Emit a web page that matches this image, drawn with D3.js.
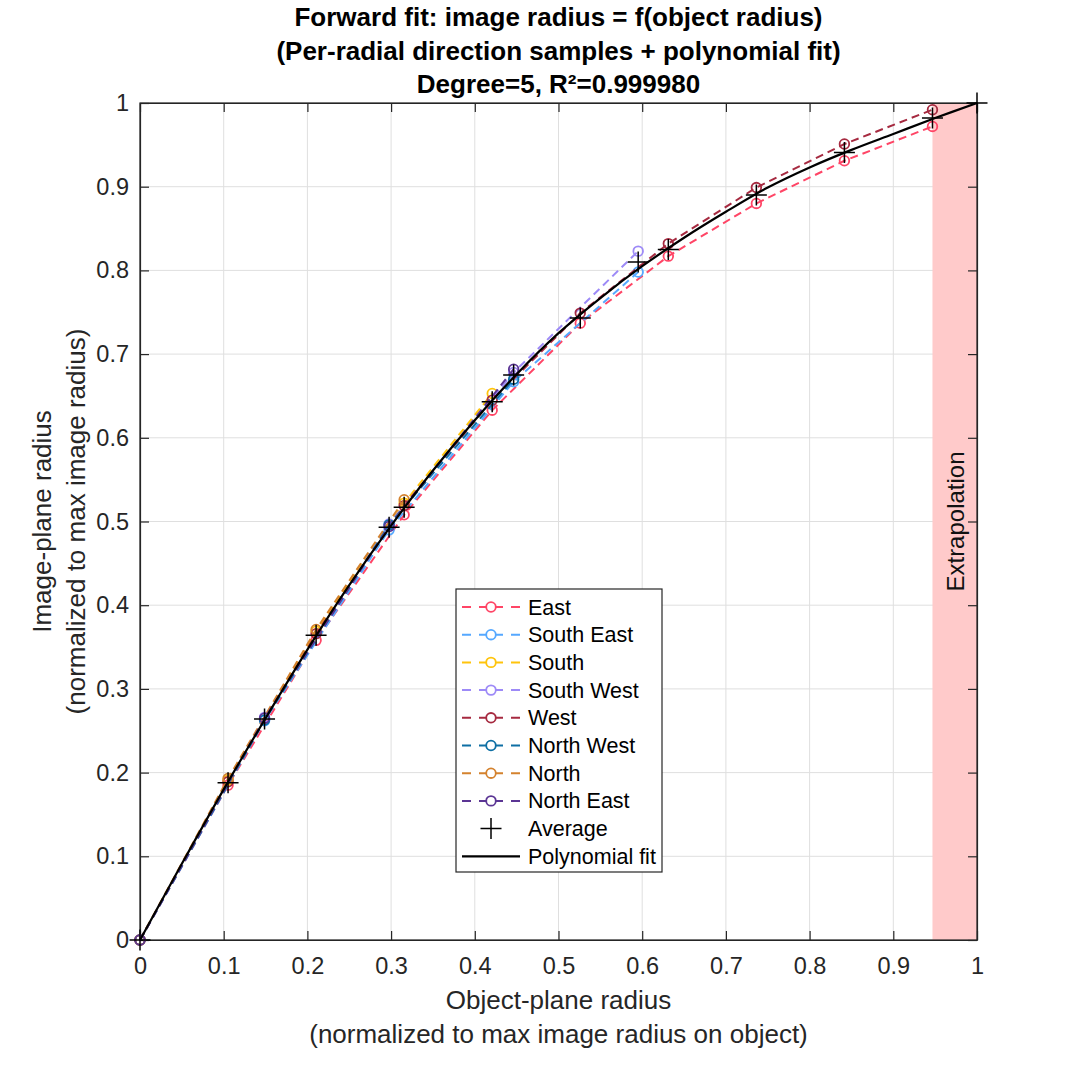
<!DOCTYPE html>
<html><head><meta charset="utf-8">
<script src="https://cdn.jsdelivr.net/npm/d3@7"></script>
<style>
html,body{margin:0;padding:0;background:#fff;}
svg{display:block;font-family:"Liberation Sans",Arial,Helvetica,sans-serif;}
</style></head>
<body>
<svg id="chart" width="1080" height="1080"></svg>
<script>
// ---------- data ----------
const titleLines = ["Forward fit: image radius = f(object radius)",
                    "(Per-radial direction samples + polynomial fit)",
                    "Degree=5, R\u00B2=0.999980"];
const xLabelLines = ["Object-plane radius", "(normalized to max image radius on object)"];
const yLabelLines = ["Image-plane radius", "(normalized to max image radius)"];
const tickValues = [0,0.1,0.2,0.3,0.4,0.5,0.6,0.7,0.8,0.9,1];
const tickLabels = ["0","0.1","0.2","0.3","0.4","0.5","0.6","0.7","0.8","0.9","1"];

const horizX = [0,0.1052,0.2104,0.3156,0.4208,0.526,0.6312,0.7364,0.8416,0.9468];
const southX = [0,0.1052,0.2104,0.3156,0.4208];
const northX = [0,0.1052,0.2104,0.3156];
const diagLongX = [0,0.1488,0.2976,0.4464,0.5952];
const diagShortX = [0,0.1488,0.2976,0.4464];

const eastY      = [0,0.185,0.358,0.508,0.633,0.737,0.817,0.880,0.931,0.972];
const southEastY = [0,0.262,0.490,0.667,0.798];
const southY     = [0,0.191,0.369,0.522,0.653];
const southWestY = [0,0.266,0.497,0.678,0.823];
const westY      = [0,0.189,0.366,0.519,0.645,0.749,0.832,0.899,0.951,0.992];
const northWestY = [0,0.263,0.496,0.670];
const northY     = [0,0.193,0.371,0.526];
const northEastY = [0,0.265,0.494,0.682];

const seriesNames  = ["East","South East","South","South West","West","North West","North","North East"];
const seriesColors = ["#ff4566","#55a8ff","#ffc40c","#9d8af7","#a62a40","#0e6fa4","#d4822e","#5b3594"];
const seriesXs = [horizX, diagLongX, southX, diagLongX, horizX, diagShortX, northX, diagShortX];
const seriesYs = [eastY, southEastY, southY, southWestY, westY, northWestY, northY, northEastY];

const avgX = [0,0.1052,0.1488,0.2104,0.2976,0.3156,0.4208,0.4464,0.526,0.5952,0.6312,0.7364,0.8416,0.9468,1];
const avgY = [0,0.188,0.264,0.364,0.493,0.517,0.643,0.675,0.743,0.810,0.825,0.890,0.941,0.982,1];

const fitX = [0,0.05,0.1,0.15,0.2,0.25,0.3,0.35,0.4,0.45,0.5,0.55,0.6,0.65,0.7,0.75,0.8,0.85,0.9,0.95,1];
const fitY = [0,0.091,0.180,0.265,0.347,0.424,0.495,0.561,0.621,0.676,0.725,0.767,0.805,0.839,0.870,0.899,0.923,0.944,0.963,0.982,1.0];

const extrapStart = 0.9468, extrapEnd = 1;
const legendNames = seriesNames.concat(["Average","Polynomial fit"]);

// ---------- layout ----------
const svg = d3.select("#chart");
const L = 140, R = 977, T = 103, B = 940;
const x = d3.scaleLinear().domain([0,1]).range([L,R]);
const y = d3.scaleLinear().domain([0,1]).range([B,T]);
const txt = "#262626";

svg.append("rect").attr("width",1080).attr("height",1080).attr("fill","#fff");

// grid
const grid = svg.append("g");
grid.selectAll(".gx").data(tickValues).join("line")
  .attr("x1",d=>x(d)).attr("x2",d=>x(d)).attr("y1",T).attr("y2",B)
  .attr("stroke","#dfdfdf").attr("stroke-width",1);
grid.selectAll(".gy").data(tickValues).join("line")
  .attr("y1",d=>y(d)).attr("y2",d=>y(d)).attr("x1",L).attr("x2",R)
  .attr("stroke","#dfdfdf").attr("stroke-width",1);

// extrapolation patch
svg.append("rect").attr("x",x(extrapStart)).attr("y",y(1))
  .attr("width",x(extrapEnd)-x(extrapStart)).attr("height",y(0)-y(1))
  .attr("fill","#ffcaca");
svg.append("text").attr("transform",`translate(${(x(extrapStart)+x(extrapEnd))/2+9},${(T+B)/2}) rotate(-90)`)
  .attr("text-anchor","middle").attr("font-size",24).attr("fill","#111").text("Extrapolation");

// axes
const fmt = d => tickLabels[tickValues.indexOf(d)];
const ax = [
  {g:d3.axisBottom(x), t:`translate(0,${B})`, lab:true, pad:17},
  {g:d3.axisTop(x), t:`translate(0,${T})`, lab:false, pad:0},
  {g:d3.axisLeft(y), t:`translate(${L},0)`, lab:true, pad:11},
  {g:d3.axisRight(y), t:`translate(${R},0)`, lab:false, pad:0}
];
ax.forEach((a,i)=>{
  const gen = a.g.tickValues(tickValues).tickFormat(a.lab?fmt:()=>"").tickSizeOuter(0).tickSizeInner(-9).tickPadding(a.pad);
  const g = svg.append("g").attr("transform",a.t).call(gen);
  g.select(".domain").attr("stroke",txt).attr("stroke-width",1.2);
  g.selectAll(".tick line").attr("stroke",txt).attr("stroke-width",1.2);
  g.selectAll(".tick text").attr("fill",txt).attr("font-size",23.5)
   .attr("font-family",'"Liberation Sans",Arial,Helvetica,sans-serif');
});
// box edges full
svg.append("rect").attr("x",L).attr("y",T).attr("width",R-L).attr("height",B-T)
  .attr("fill","none").attr("stroke",txt).attr("stroke-width",1.2);

// series
const line = d3.line().x(d=>x(d[0])).y(d=>y(d[1]));
seriesNames.forEach((n,i)=>{
  const pts = seriesXs[i].map((v,j)=>[v, seriesYs[i][j]]);
  const g = svg.append("g");
  g.append("path").datum(pts).attr("d",line).attr("fill","none")
    .attr("stroke",seriesColors[i]).attr("stroke-width",2).attr("stroke-dasharray","8,5");
  g.selectAll("circle").data(pts).join("circle")
    .attr("cx",d=>x(d[0])).attr("cy",d=>y(d[1])).attr("r",4.8)
    .attr("fill","none").attr("stroke",seriesColors[i]).attr("stroke-width",1.8);
});

// average markers
const plusPath = (cx,cy,s)=>`M${cx-s},${cy}H${cx+s}M${cx},${cy-s}V${cy+s}`;
svg.append("g").selectAll("path").data(avgX.map((v,j)=>[v,avgY[j]])).join("path")
  .attr("d",d=>plusPath(x(d[0]),y(d[1]),10.5)).attr("stroke","#000").attr("stroke-width",1.5).attr("fill","none");

// polynomial fit
svg.append("path").datum(fitX.map((v,j)=>[v,fitY[j]]))
  .attr("d",line.curve(d3.curveCatmullRom)).attr("fill","none").attr("stroke","#000").attr("stroke-width",2.2);

// titles
svg.append("g").selectAll("text").data(titleLines).join("text")
  .attr("x",(L+R)/2).attr("y",(d,i)=>26+i*33.5).attr("text-anchor","middle")
  .attr("font-size",26).attr("font-weight","bold").attr("fill","#000").text(d=>d);

// axis labels
svg.append("g").selectAll("text").data(xLabelLines).join("text")
  .attr("x",(L+R)/2).attr("y",(d,i)=>1009+i*34).attr("text-anchor","middle")
  .attr("font-size",26).attr("fill",txt).text(d=>d);
svg.append("g").selectAll("text").data(yLabelLines).join("text")
  .attr("transform",(d,i)=>`translate(${51+i*34},${(T+B)/2}) rotate(-90)`).attr("text-anchor","middle")
  .attr("font-size",26).attr("fill",txt).text(d=>d);

// legend
const lg = svg.append("g");
lg.append("rect").attr("x",456).attr("y",589).attr("width",206).attr("height",283)
  .attr("fill","#fff").attr("stroke",txt).attr("stroke-width",1.2);
legendNames.forEach((n,i)=>{
  const cy = 607 + i*27.7;
  if(i<8){
    lg.append("line").attr("x1",462).attr("x2",520).attr("y1",cy).attr("y2",cy)
      .attr("stroke",seriesColors[i]).attr("stroke-width",2).attr("stroke-dasharray","9,8,24,8,9");
    lg.append("circle").attr("cx",491).attr("cy",cy).attr("r",4.8).attr("fill","#fff")
      .attr("stroke",seriesColors[i]).attr("stroke-width",1.8);
  } else if(i==8){
    lg.append("path").attr("d",plusPath(491,cy,10.5)).attr("stroke","#000").attr("stroke-width",1.5);
  } else {
    lg.append("line").attr("x1",462).attr("x2",520).attr("y1",cy).attr("y2",cy)
      .attr("stroke","#000").attr("stroke-width",2.2);
  }
  lg.append("text").attr("x",528).attr("y",cy+7.5).attr("font-size",21.5).attr("fill","#000").text(n);
});
</script>
</body></html>
